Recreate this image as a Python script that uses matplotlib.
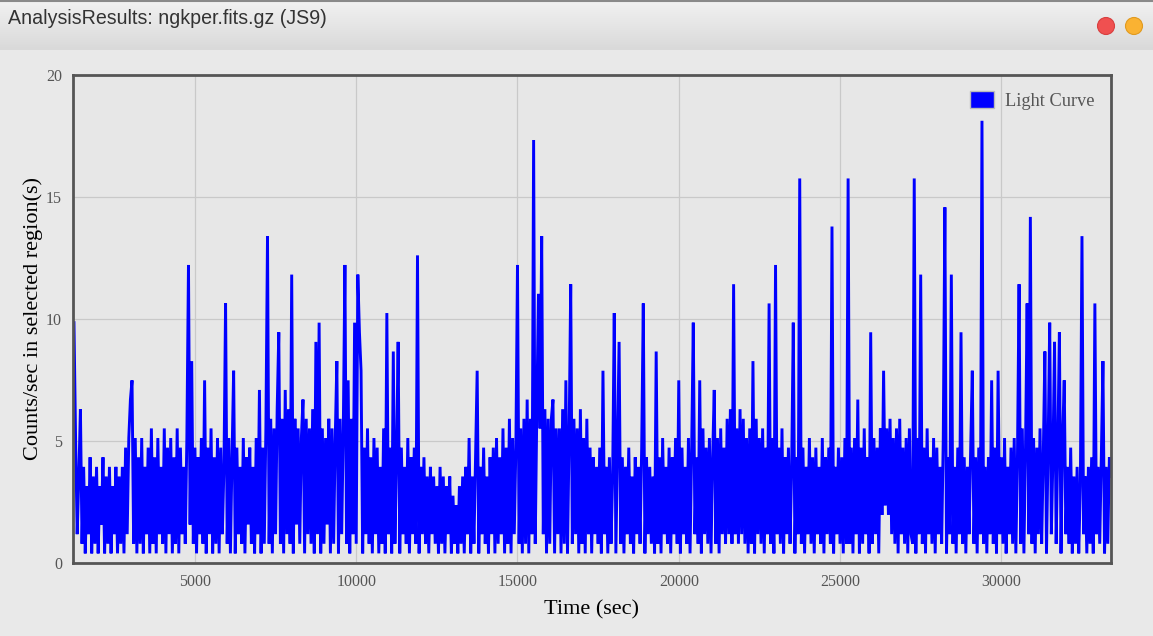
import numpy as np
import matplotlib.pyplot as plt
from matplotlib.colors import LinearSegmentedColormap
from matplotlib.patches import Patch, Circle

# --- Data: light curve, counts per 50 s bin ---
T_START = 1250      # sec, first bin
BIN_SEC = 50        # sec per bin
RATE_PER_COUNT = 0.394  # counts/sec for one event in a bin

COUNTS = [
    25, 13, 3, 9, 16, 2, 10, 1, 8, 3, 11, 1, 9, 2, 10, 1, 8, 4, 11, 1,
    9, 2, 10, 1, 8, 3, 10, 1, 9, 2, 10, 1, 12, 3, 13, 17, 19, 2, 13, 1,
    11, 2, 13, 1, 10, 3, 12, 1, 14, 2, 11, 1, 13, 3, 10, 2, 14, 1, 12, 3,
    13, 1, 11, 2, 14, 1, 12, 3, 10, 2, 13, 31, 4, 21, 2, 12, 1, 11, 3, 13,
    2, 19, 1, 12, 3, 14, 1, 11, 2, 13, 1, 12, 3, 10, 27, 2, 13, 1, 11, 20,
    1, 12, 3, 10, 2, 13, 1, 11, 4, 12, 2, 10, 1, 13, 3, 18, 1, 12, 2, 14,
    34, 2, 15, 1, 14, 3, 16, 24, 2, 15, 1, 18, 3, 16, 2, 30, 1, 15, 4, 14,
    2, 13, 17, 1, 15, 3, 14, 2, 16, 1, 23, 3, 25, 1, 14, 2, 13, 4, 15, 1,
    14, 2, 13, 21, 1, 15, 3, 14, 31, 2, 19, 1, 15, 3, 25, 2, 30, 24, 20, 1,
    12, 3, 14, 2, 11, 1, 13, 3, 12, 1, 10, 2, 14, 1, 26, 3, 12, 1, 22, 2,
    11, 23, 1, 12, 3, 10, 2, 13, 1, 11, 3, 12, 2, 32, 1, 10, 3, 11, 2, 9,
    1, 10, 3, 9, 2, 8, 1, 10, 2, 9, 1, 8, 3, 9, 1, 7, 2, 6, 1, 8,
    2, 9, 1, 10, 3, 13, 1, 9, 2, 11, 20, 1, 10, 3, 12, 2, 9, 1, 11, 3,
    12, 1, 13, 2, 11, 3, 14, 1, 12, 2, 15, 1, 13, 3, 12, 31, 2, 14, 1, 15,
    2, 17, 1, 15, 3, 44, 2, 16, 28, 14, 34, 3, 16, 1, 15, 2, 15, 17, 1, 14,
    3, 14, 1, 16, 2, 19, 1, 13, 29, 2, 15, 3, 14, 1, 16, 2, 13, 1, 15, 3,
    12, 1, 11, 3, 10, 2, 12, 1, 20, 3, 10, 1, 11, 2, 9, 26, 1, 12, 23, 2,
    11, 1, 10, 3, 12, 2, 9, 1, 11, 3, 10, 2, 12, 27, 1, 11, 3, 10, 2, 9,
    1, 22, 2, 11, 1, 13, 3, 10, 2, 12, 1, 11, 3, 13, 2, 19, 1, 12, 3, 10,
    2, 13, 1, 12, 25, 3, 11, 2, 19, 1, 14, 3, 12, 2, 13, 1, 11, 18, 2, 13,
    1, 14, 3, 12, 2, 15, 3, 16, 2, 29, 3, 14, 2, 16, 3, 15, 2, 13, 1, 14,
    2, 21, 1, 15, 3, 13, 2, 14, 1, 12, 3, 27, 2, 13, 1, 31, 3, 12, 2, 14,
    1, 11, 3, 12, 2, 10, 25, 1, 11, 3, 40, 2, 12, 1, 10, 3, 13, 2, 11, 1,
    12, 3, 10, 2, 13, 1, 11, 3, 12, 2, 35, 1, 10, 3, 12, 2, 11, 1, 13, 2,
    40, 2, 12, 1, 13, 3, 17, 1, 12, 2, 14, 3, 11, 1, 24, 2, 13, 3, 12, 1,
    14, 5, 20, 6, 14, 5, 15, 3, 13, 2, 14, 1, 15, 3, 12, 2, 13, 1, 14, 3,
    2, 40, 1, 13, 3, 30, 2, 12, 1, 14, 3, 11, 2, 13, 1, 12, 3, 10, 2, 13,
    37, 1, 11, 3, 30, 2, 10, 1, 12, 3, 24, 2, 11, 1, 10, 3, 12, 20, 2, 11,
    1, 12, 3, 46, 2, 10, 1, 11, 3, 19, 2, 12, 1, 20, 3, 11, 2, 13, 1, 10,
    3, 12, 2, 13, 1, 11, 29, 2, 14, 1, 12, 27, 3, 36, 2, 13, 1, 12, 3, 14,
    2, 11, 22, 1, 12, 25, 3, 11, 23, 2, 12, 24, 1, 13, 19, 3, 10, 2, 12, 1,
    9, 2, 10, 1, 8, 34, 3, 9, 1, 10, 2, 11, 1, 27, 3, 10, 2, 11, 21, 1,
    10, 2, 11, 9,
]

X_TICKS = [5000, 10000, 15000, 20000, 25000, 30000]
Y_TICKS = [0, 5, 10, 15, 20]

WINDOW_TITLE = "AnalysisResults: ngkper.fits.gz (JS9)"

# --- Style ---
BG = "#e9e9e9"
FRAME = "#555555"
GRIDC = "#c9c9c9"
TICKC = "#555555"
SERIF = ["Liberation Serif", "DejaVu Serif"]

time = T_START + BIN_SEC * np.arange(len(COUNTS))
rate = np.array(COUNTS) * RATE_PER_COUNT

W, H = 1153, 636
fig = plt.figure(figsize=(W / 100, H / 100), dpi=100, facecolor=BG)

# window title bar (gradient strip)
bar = fig.add_axes([0, 1 - 50 / H, 1, 50 / H])
grad = np.linspace(0, 1, 50).reshape(-1, 1)
bar.imshow(grad, aspect="auto", extent=[0, W, 50, 0],
           cmap=LinearSegmentedColormap.from_list("bar", ["#f2f2f2", "#d9d9d9"]))
bar.axhline(0.8, color="#8a8a8a", lw=1.5)
bar.set_xlim(0, W)
bar.set_ylim(50, 0)
bar.axis("off")
bar.text(8, 18, WINDOW_TITLE, fontsize=14.1, family=["Liberation Sans", "DejaVu Sans"],
         color="#333333", va="center", ha="left")
bar.add_patch(Circle((1106, 26), 8.5, facecolor="#f05050", edgecolor="#d84040", lw=0.8))
bar.add_patch(Circle((1134, 26), 8.5, facecolor="#fab232", edgecolor="#e09a20", lw=0.8))

# main plot
ax = fig.add_axes([73 / W, 1 - 563 / H, (1111 - 73) / W, (563 - 75) / H])
ax.set_facecolor("#e7e7e7")
ax.plot(time, rate, color="#0000ff", lw=2.1, solid_joinstyle="bevel")
ax.set_xlim(1220, 33400)
ax.set_ylim(0, 20)
ax.set_xticks(X_TICKS)
ax.set_yticks(Y_TICKS)
ax.grid(True, color=GRIDC, lw=0.9)
ax.set_axisbelow(True)
ax.tick_params(length=0, pad=8, colors=TICKC, labelsize=11.5)
for lab in ax.get_xticklabels() + ax.get_yticklabels():
    lab.set_family(SERIF)
for sp in ax.spines.values():
    sp.set_color(FRAME)
    sp.set_linewidth(2.0)

ax.set_xlabel("Time (sec)", fontsize=16, family=SERIF, color="black", labelpad=7)
ax.set_ylabel("Counts/sec in selected region(s)", fontsize=16, family=SERIF,
              color="black", labelpad=2)

leg = ax.legend(handles=[Patch(facecolor="#0000ff", edgecolor="#bbbbbb", label="Light Curve")],
                loc="upper right", frameon=False, prop={"family": SERIF, "size": 13.2},
                handlelength=1.3, handleheight=1.0, handletextpad=0.6,
                borderaxespad=0.5)
for t in leg.get_texts():
    t.set_color("#555555")

fig.savefig("out.png", dpi=100, facecolor=BG)
